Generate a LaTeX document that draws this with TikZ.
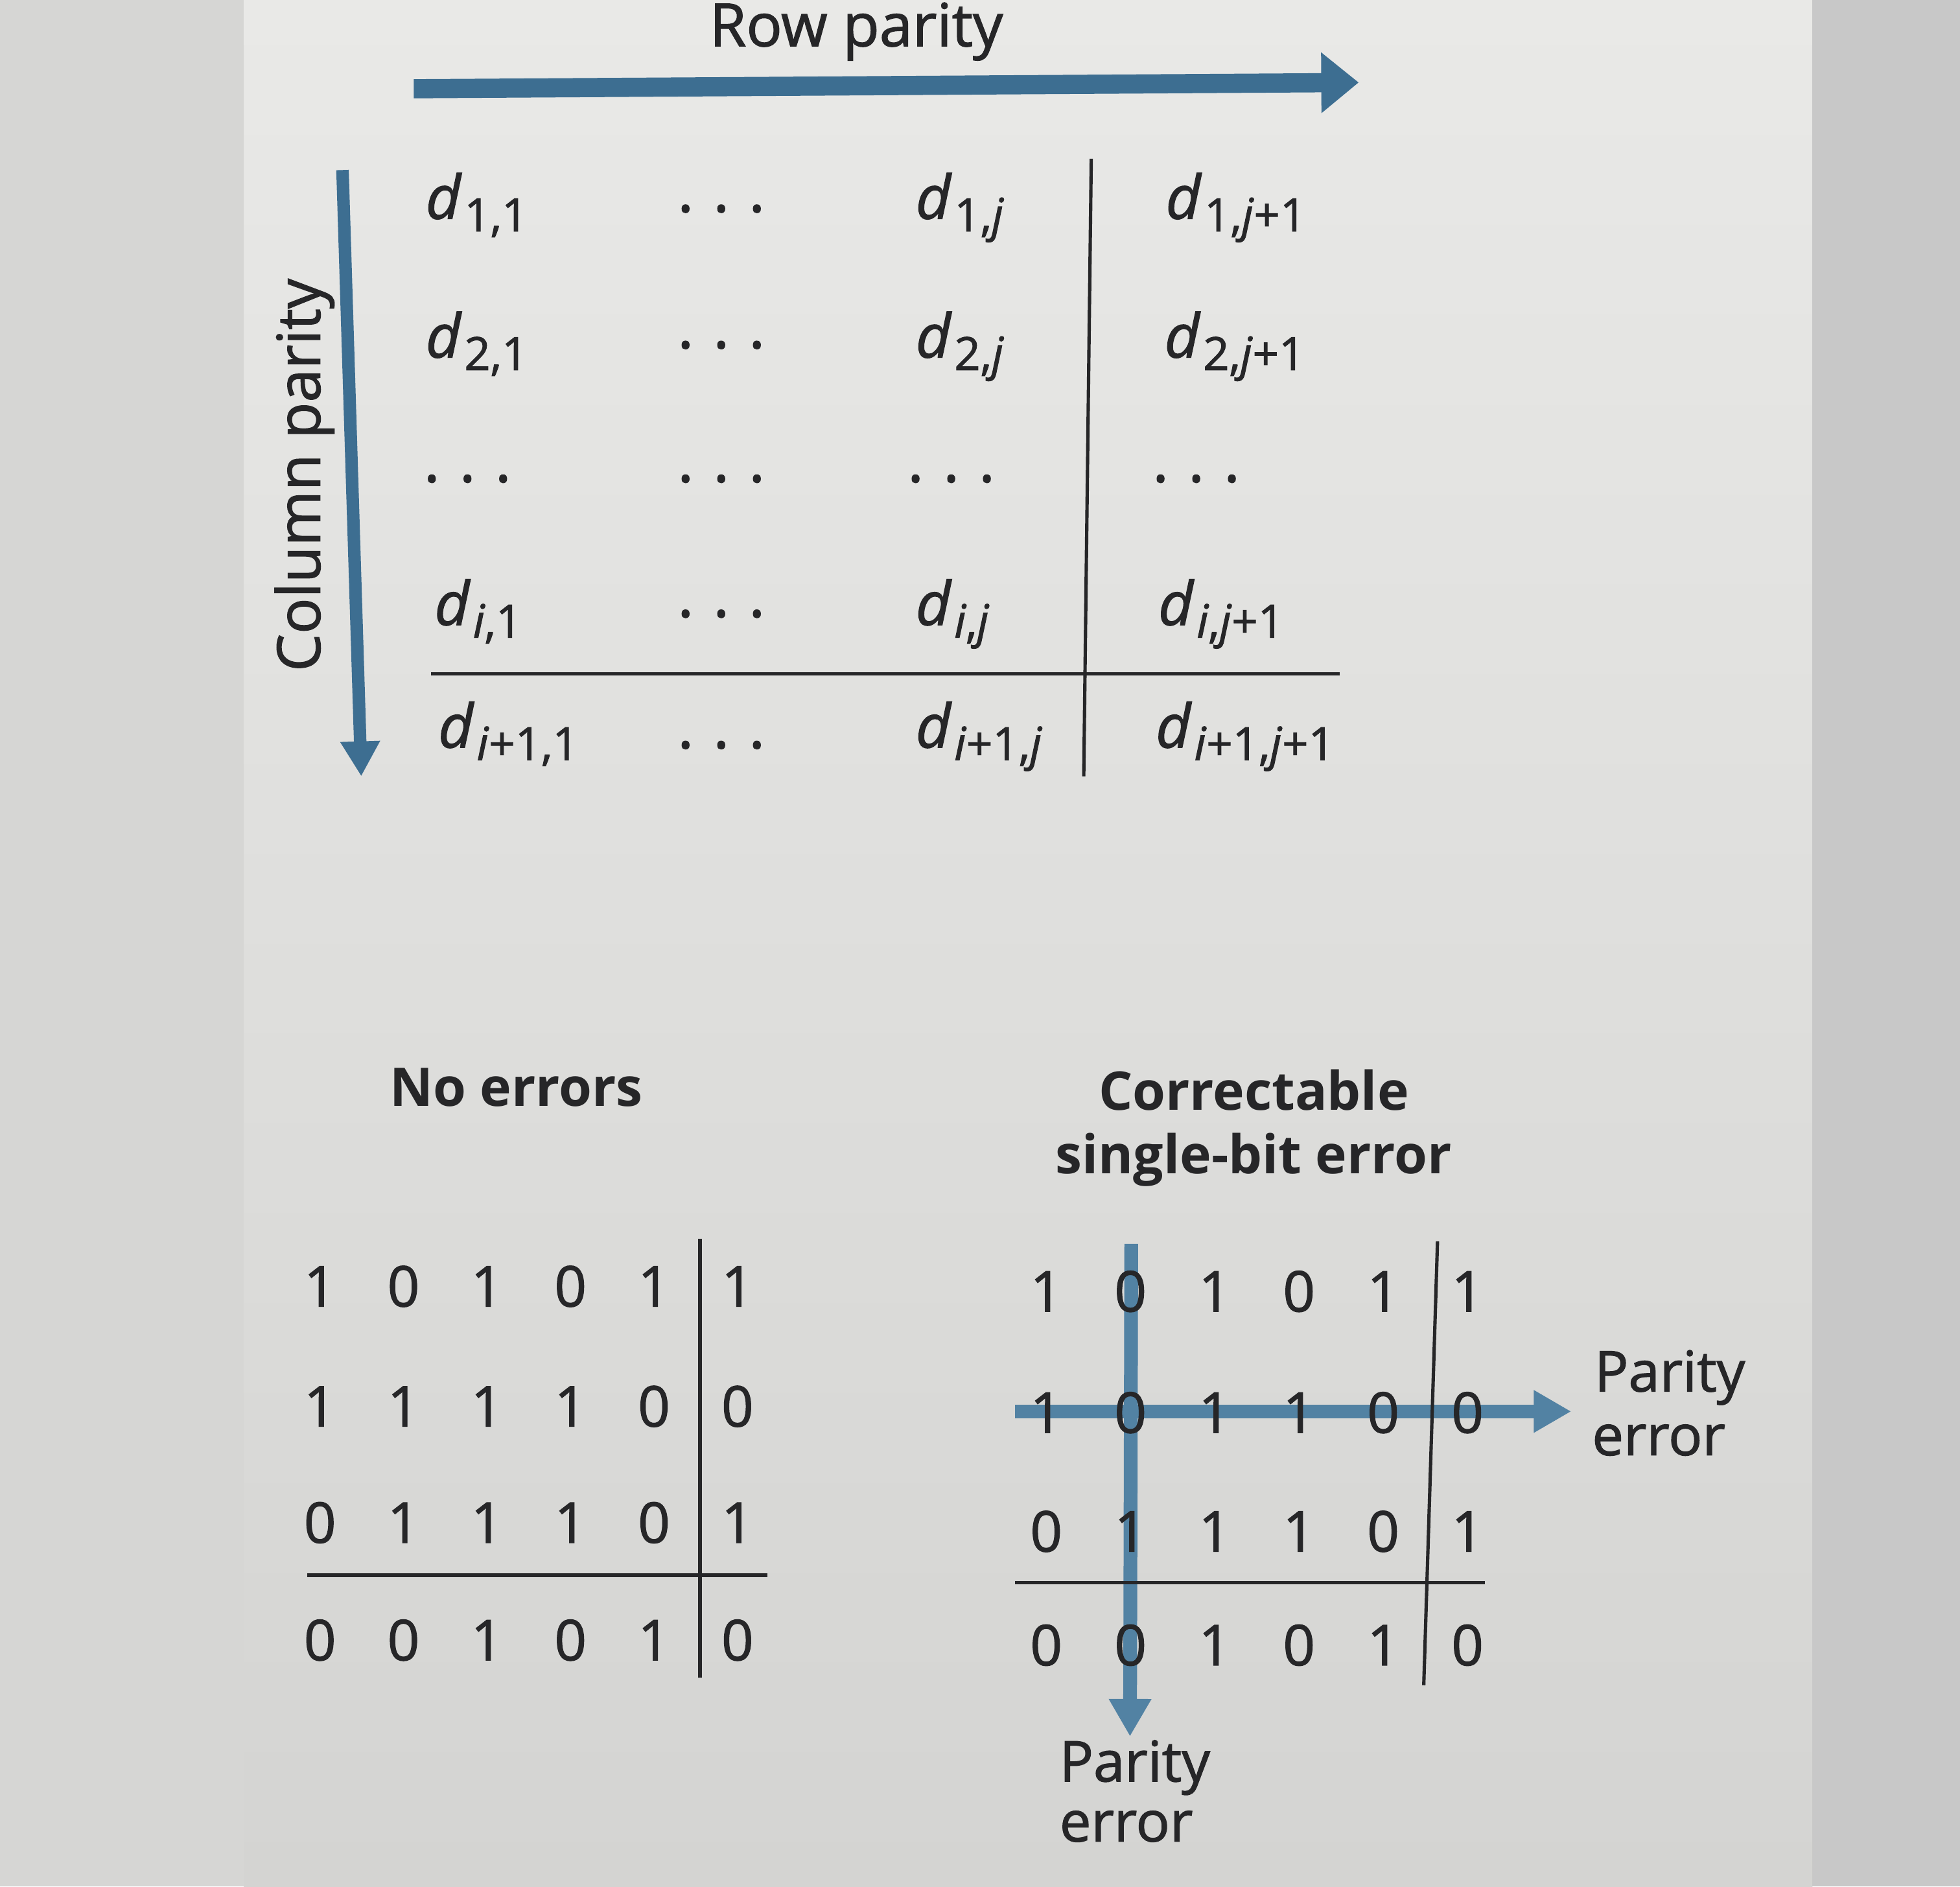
\documentclass[tikz,border=0pt]{standalone}
\usepackage{fontspec}
\setmainfont{Open Sans}
\newfontfamily\medfont{Open Sans}[FakeBold=1.4]
\usetikzlibrary{arrows.meta}
\definecolor{pblue}{RGB}{61,110,145}
\definecolor{pblueL}{RGB}{82,130,163}
\definecolor{ink}{RGB}{38,38,40}
\definecolor{bgL}{RGB}{214,214,212}
\definecolor{bgR}{RGB}{200,200,200}
\definecolor{pgT}{RGB}{233,233,231}
\definecolor{pgB}{RGB}{212,212,210}
\newcommand\dsym[1]{\textit{d}\kern0.6pt\raisebox{-3pt}{\fontsize{11}{11}\selectfont #1}}
\newcommand\mydots{.\hspace{4.7pt}.\hspace{4.7pt}.}
\begin{document}
\begin{tikzpicture}[x=0.3pt,y=-0.3pt,
  dnode/.style={anchor=base west,inner sep=0pt,text=ink,font=\medfont\fontsize{14.5}{17}\selectfont},
  dotnode/.style={anchor=center,inner sep=0pt,text=ink,font=\medfont\fontsize{14.5}{17}\selectfont},
  bit/.style={anchor=center,inner sep=0pt,text=ink,font=\medfont\fontsize{13.5}{16}\selectfont},
  title/.style={anchor=base,inner sep=0pt,text=ink,font=\bfseries\fontsize{12.8}{15}\selectfont},
  lab/.style={anchor=base,inner sep=0pt,text=ink,font=\medfont\fontsize{14.3}{17}\selectfont},
  elab/.style={anchor=base west,inner sep=0pt,text=ink,font=\medfont\fontsize{13.5}{16}\selectfont},
  rule/.style={draw=ink,line width=0.8pt},
  bigarrow/.style={draw=pblue,line width=4.6pt,-{Triangle[length=9pt,width=14pt]}},
  colarrow/.style={draw=pblue,line width=3pt,-{Triangle[length=8.4pt,width=9pt]}},
  errarrow/.style={draw=pblueL,line width=3.3pt,-{Triangle[length=9pt,width=9.6pt]}}
]
\useasboundingbox (0,0) rectangle (1568,1509);
% background
\fill[bgL] (0,0) rectangle (1568,1509);
\shade[top color=pgT,bottom color=pgB] (195,0) rectangle (1450,1509);
\fill[bgR] (1450,0) rectangle (1568,1509);

% ---------- top arrows and labels
\coordinate (rpA) at (331,71);
\coordinate (rpB) at (1087,66);
\draw[bigarrow] (rpA) -- (rpB);
\node[lab] (rowpar) at (685,37) {Row parity};

\coordinate (cpA) at (274,136);
\coordinate (cpB) at (289,621);
\draw[colarrow] (cpA) -- (cpB);
\node[lab,rotate=90] (colpar) at (256,380) {Column parity};

% ---------- general matrix
\node[dnode] (d11) at (340,175) {\dsym{1,1}};
\node[dotnode] (o12) at (577,167) {\mydots};
\node[dnode] (d1j) at (732,175) {\dsym{1,\textit{j}}};
\node[dnode] (d1k) at (932,175) {\dsym{1,\textit{j}+1}};

\node[dnode] (d21) at (340,286) {\dsym{2,1}};
\node[dotnode] (o22) at (577,276) {\mydots};
\node[dnode] (d2j) at (732,286) {\dsym{2,\textit{j}}};
\node[dnode] (d2k) at (931,286) {\dsym{2,\textit{j}+1}};

\node[dotnode] (o31) at (374,383) {\mydots};
\node[dotnode] (o32) at (577,383) {\mydots};
\node[dotnode] (o33) at (761,383) {\mydots};
\node[dotnode] (o34) at (957,383) {\mydots};

\node[dnode] (di1) at (347,500) {\dsym{\textit{i},1}};
\node[dotnode] (o42) at (577,491) {\mydots};
\node[dnode] (dij) at (732,500) {\dsym{\textit{i},\textit{j}}};
\node[dnode] (dik) at (926,500) {\dsym{\textit{i},\textit{j}+1}};

\node[dnode] (dl1) at (350,598) {\dsym{\textit{i}+1,1}};
\node[dotnode] (o52) at (577,596) {\mydots};
\node[dnode] (dlj) at (732,598) {\dsym{\textit{i}+1,\textit{j}}};
\node[dnode] (dlk) at (924,598) {\dsym{\textit{i}+1,\textit{j}+1}};

\coordinate (tvT) at (873,127);
\coordinate (tvB) at (867,621);
\coordinate (thL) at (345,539);
\coordinate (thR) at (1072,539);
\draw[rule] (tvT) -- (tvB);
\draw[rule] (thL) -- (thR);

% ---------- No errors
\node[title] (noerr) at (413,885) {No errors};
\foreach \r/\y/\vals in {1/1029/{1,0,1,0,1,1},2/1125/{1,1,1,1,0,0},3/1218/{0,1,1,1,0,1},4/1312/{0,0,1,0,1,0}}{
  \foreach \v [count=\c] in \vals {
    \node[bit] (nl-\r-\c) at ({256+66.8*(\c-1)},\y) {\v};
  }
}
\coordinate (lvT) at (560,991);
\coordinate (lvB) at (560,1342);
\coordinate (lhL) at (246,1260);
\coordinate (lhR) at (614,1260);
\draw[rule] (lvT) -- (lvB);
\draw[rule] (lhL) -- (lhR);

% ---------- Correctable single-bit error
\node[title] (cor1) at (1003,888) {Correctable};
\node[title] (cor2) at (1003,939) {single-bit error};

\coordinate (erA) at (812,1129);
\coordinate (erB) at (1257,1129);
\coordinate (ecA) at (905,995);
\coordinate (ecB) at (904,1389);
\draw[errarrow] (erA) -- (erB);
\draw[errarrow] (ecA) -- (ecB);

\foreach \r/\y/\vals in {1/1033/{1,0,1,0,1,1},2/1130/{1,0,1,1,0,0},3/1225/{0,1,1,1,0,1},4/1316/{0,0,1,0,1,0}}{
  \foreach \v [count=\c] in \vals {
    \node[bit] (nr-\r-\c) at ({837+67.4*(\c-1)},\y) {\v};
  }
}
\coordinate (rvT) at (1150,993);
\coordinate (rvB) at (1139,1348);
\coordinate (rhL) at (812,1266);
\coordinate (rhR) at (1188,1266);
\draw[rule] (rvT) -- (rvB);
\draw[rule] (rhL) -- (rhR);

\node[elab] (pe1a) at (1275,1113) {Parity};
\node[elab] (pe1b) at (1273,1164) {error};
\node[elab] (pe2a) at (847,1425) {Parity};
\node[elab] (pe2b) at (847,1473) {error};
\end{tikzpicture}
\end{document}
